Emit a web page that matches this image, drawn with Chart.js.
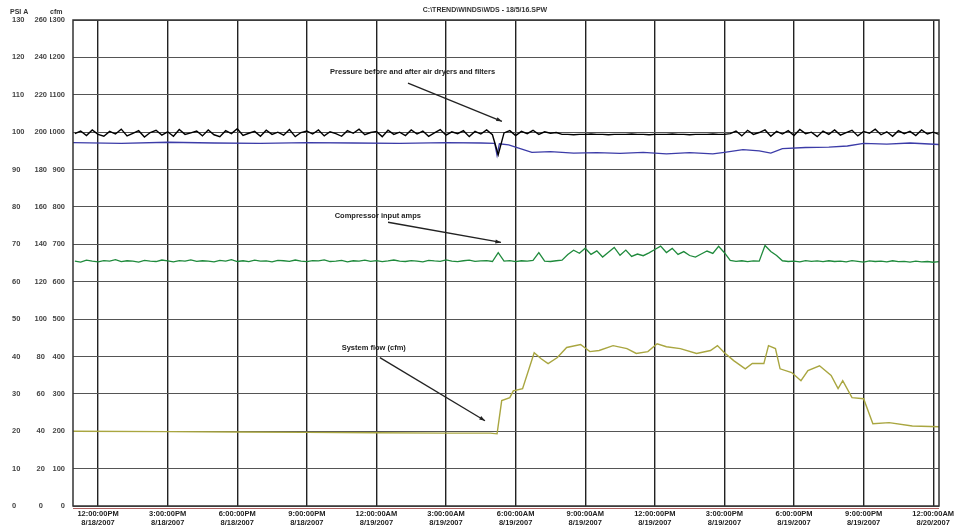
<!DOCTYPE html>
<html>
<head>
<meta charset="utf-8">
<script src="https://cdn.jsdelivr.net/npm/chart.js@4.4.0/dist/chart.umd.min.js"></script>
<style>
  html, body { margin: 0; padding: 0; background: #fff; }
  #wrap { width: 965px; height: 527px; position: relative; }
</style>
</head>
<body>
<div id="wrap"><canvas id="trend"></canvas></div>
<script>
// x axis is hours after 12:00 PM of the first day
const xTickTimes = ['12:00:00PM', '3:00:00PM', '6:00:00PM', '9:00:00PM', '12:00:00AM', '3:00:00AM', '6:00:00AM',
  '9:00:00AM', '12:00:00PM', '3:00:00PM', '6:00:00PM', '9:00:00PM', '12:00:00AM'];
const xTickDates = ['8/18/2007', '8/18/2007', '8/18/2007', '8/18/2007', '8/19/2007', '8/19/2007', '8/19/2007',
  '8/19/2007', '8/19/2007', '8/19/2007', '8/19/2007', '8/19/2007', '8/20/2007'];
const xTickHours = [0, 3, 6, 9, 12, 15, 18, 21, 24, 27, 30, 33, 36];

// logger samples every 15 min for the two noisy channels
const sampleStart = -1;
const sampleStep = 0.25;

// pressure before dryers, PSI A
const pressureBeforePsi = [
  99.6, 100.3, 99.1, 100.6, 99.4, 98.9, 100.2, 99.5, 100.8, 99.0, 99.7, 100.4,
  98.7, 99.9, 100.5, 99.2, 100.1, 98.9, 100.7, 99.4, 99.8, 100.3, 99.0, 100.6,
  99.3, 98.8, 100.4, 99.6, 100.9, 99.1, 99.7, 100.2, 98.9, 100.5, 99.4, 100.0,
  99.2, 100.7, 98.8, 99.9, 100.3, 99.5, 100.6, 99.0, 100.1, 99.6, 98.9, 100.4,
  99.7, 100.8, 99.3, 99.9, 100.2, 98.8, 100.5, 99.4, 100.0, 99.1, 100.6, 99.5,
  100.3, 98.9, 99.8, 100.7, 99.2, 100.1, 99.6, 100.4, 98.8, 100.2, 99.5, 100.6,
  99.3, 94.0, 99.8, 100.4, 99.1, 100.2, 99.6, 100.5, 99.4, 100.1, 99.7, 99.9,
  99.4, 99.4, 99.3, 99.4, 99.4, 99.5, 99.4, 99.4, 99.3, 99.4, 99.4, 99.4,
  99.5, 99.4, 99.4, 99.3, 99.4, 99.4, 99.4, 99.5, 99.4, 99.4, 99.3, 99.4,
  99.4, 99.4, 99.5, 99.4, 99.4,
  99.6, 100.3, 99.0, 100.5, 99.4, 99.9, 100.6, 98.9, 100.2, 99.5, 100.4, 99.1,
  100.7, 99.6, 100.0, 98.8, 100.3, 99.4, 100.6, 99.2, 99.9, 100.5, 99.0, 100.2,
  99.7, 100.8, 99.3, 100.1, 98.9, 100.4, 99.6, 100.2, 99.1, 100.6, 99.5, 100.0, 99.4
];

// compressor input amps (middle scale)
const compressorAmps = [
  131, 130.5, 131.5, 131, 130.6, 131.3, 131, 131.8, 130.7, 131.2, 131, 130.5,
  131.4, 131, 130.8, 131.6, 131.1, 130.6, 131.3, 131, 131.7, 130.9, 131.2, 131,
  130.6, 131.4, 131, 131.8, 130.8, 131.2, 130.7, 131.5, 131, 131.1, 130.6, 131.4,
  131.2, 130.9, 131.6, 131, 130.7, 131.3, 131.1, 131.7, 130.8, 131, 131.4, 130.6,
  131.2, 131, 131.5, 130.9, 131.3, 130.7, 131.1, 131.6, 131, 130.8, 131.3, 131,
  130.6, 131.4, 131.1, 130.9, 131.7, 131, 130.7, 131.2, 131.5, 130.9, 131.1, 131.3,
  130.8, 135.5, 131, 131.3, 130.7, 131.2, 131, 131.4, 135.5, 131, 130.8, 131.2,
  131.5, 134.5, 136.8, 135.2, 137.9, 134.6, 136.5, 133.2, 135.8, 138.3, 134.1, 136.9,
  133.5, 134.8, 133.9, 135.4, 137.2, 139.0, 135.6, 137.8, 134.6, 136.1, 134.0, 133.2,
  134.8, 136.4, 135.1, 138.9, 135.5,
  131.4, 130.9, 131.2, 130.7, 131.1, 131.0, 139.4, 136.2, 134.0,
  131.2, 130.8, 131.0, 130.6, 131.3, 130.9, 131.1, 130.7, 131.2, 130.8, 131.0, 130.6,
  131.3, 130.9, 130.5, 131.1, 130.8, 131.0, 130.6, 131.2, 130.7, 130.9, 130.5, 131.0,
  130.6, 130.8, 130.4, 130.7
];

// pressure after dryers and filters, PSI A
const pressureAfterHours = [-1.08, 1, 3, 5, 7, 9, 11, 13, 15, 16.5, 17.1, 17.2, 17.3, 17.7, 18.2, 18.7,
  19.5, 20.5, 21.5, 22.5, 23.5, 24.5, 25.5, 26.5, 27.0, 27.8, 28.5, 29.0, 29.5, 30.5, 31.5, 32.3,
  33.0, 34.0, 35.0, 36.25];
const pressureAfterPsi = [97.2, 97.0, 97.3, 97.1, 97.0, 97.2, 97.1, 97.0, 97.2, 97.1, 97.0, 93.8, 96.9, 96.6, 95.6, 94.6,
  94.8, 94.4, 94.5, 94.3, 94.6, 94.2, 94.5, 94.2, 94.6, 95.3, 95.0, 94.4, 95.6, 95.9, 96.0, 96.3,
  97.0, 96.8, 97.1, 96.7];

// system flow, cfm
const flowHours = [-1.08, 3, 6, 9, 12, 15, 16.9, 17.2, 17.4, 17.75, 17.9, 18.3, 18.8, 19.1, 19.4, 19.8,
  20.2, 20.8, 21.2, 21.6, 22.2, 22.8, 23.2, 23.7, 24.1, 24.5, 25.1, 25.8, 26.4, 26.7, 27.0, 27.4,
  27.9, 28.2, 28.7, 28.9, 29.2, 29.4, 29.9, 30.3, 30.6, 31.1, 31.6, 31.9, 32.1, 32.5, 33.0, 33.4,
  34.1, 35.1, 36.25];
const flowCfm = [200, 199, 198, 197, 196, 195, 195, 193, 282, 290, 308, 314, 410, 394, 381, 397,
  424, 432, 413, 416, 429, 421, 408, 413, 434, 426, 421, 408, 416, 429, 410, 389,
  367, 381, 381, 429, 421, 367, 357, 335, 362, 375, 349, 314, 335, 290, 287, 220,
  223, 214, 212];

const chartTitle = 'C:\\TREND\\WINDS\\WDS - 18/5/16.SPW';

const sampled = (vals) => vals.map((v, i) => ({ x: sampleStart + i * sampleStep, y: v }));
const paired = (xs, ys) => xs.map((x, i) => ({ x: x, y: ys[i] }));

// notes placed in data units: [hours, psi]
const notes = [
  { text: 'Pressure before and after air dryers and filters', at: [10.0, 116.1], from: [13.36, 113.1], to: [17.41, 102.9] },
  { text: 'Compressor input amps', at: [10.2, 77.7], from: [12.5, 75.9], to: [17.37, 70.5] },
  { text: 'System flow (cfm)', at: [10.5, 42.4], from: [12.15, 39.7], to: [16.68, 22.8] },
];

const tickFont = { family: '"Liberation Sans", Arial, sans-serif', size: 7.5, weight: 'bold' };

const decor = {
  id: 'decor',
  afterDraw(chart) {
    const { ctx, chartArea: a, scales } = chart;
    const px = (h) => scales.x.getPixelForValue(h);
    const py = (v) => scales.y.getPixelForValue(v);
    ctx.save();
    // frame
    ctx.strokeStyle = '#333';
    ctx.lineWidth = 1.5;
    ctx.strokeRect(a.left, a.top, a.right - a.left, a.bottom - a.top);
    ctx.strokeStyle = '#b06060';
    ctx.lineWidth = 1.2;
    ctx.beginPath();
    ctx.moveTo(a.left, a.bottom + 2.5);
    ctx.lineTo(a.right, a.bottom + 2.5);
    ctx.stroke();

    ctx.fillStyle = '#333';
    ctx.font = 'bold 7px "Liberation Sans", Arial, sans-serif';
    ctx.textBaseline = 'middle';
    ctx.textAlign = 'center';
    ctx.fillText(chartTitle, 485, 10);
    ctx.textAlign = 'left';
    ctx.fillText('PSI A', 10, 12);
    ctx.fillText('cfm', 50, 12);

    // notes and arrows
    ctx.font = 'bold 7.5px "Liberation Sans", Arial, sans-serif';
    ctx.fillStyle = '#222';
    ctx.strokeStyle = '#222';
    ctx.lineWidth = 1.3;
    notes.forEach((n) => {
      ctx.fillText(n.text, px(n.at[0]), py(n.at[1]));
      const x1 = px(n.from[0]), y1 = py(n.from[1]);
      const x2 = px(n.to[0]), y2 = py(n.to[1]);
      ctx.beginPath();
      ctx.moveTo(x1, y1);
      ctx.lineTo(x2, y2);
      ctx.stroke();
      const ang = Math.atan2(y2 - y1, x2 - x1);
      ctx.beginPath();
      ctx.moveTo(x2, y2);
      ctx.lineTo(x2 - 6 * Math.cos(ang - 0.35), y2 - 6 * Math.sin(ang - 0.35));
      ctx.lineTo(x2 - 6 * Math.cos(ang + 0.35), y2 - 6 * Math.sin(ang + 0.35));
      ctx.closePath();
      ctx.fill();
    });
    ctx.restore();
  }
};

new Chart(document.getElementById('trend'), {
  type: 'line',
  data: {
    datasets: [
      { label: 'Pressure before', data: sampled(pressureBeforePsi), yAxisID: 'y',
        borderColor: '#000', borderWidth: 1.4, order: 1 },
      { label: 'Pressure after', data: paired(pressureAfterHours, pressureAfterPsi), yAxisID: 'y',
        borderColor: '#3c3ca8', borderWidth: 1.3, order: 2 },
      { label: 'Compressor amps', data: sampled(compressorAmps), yAxisID: 'yAmps',
        borderColor: '#1f8a3c', borderWidth: 1.3, order: 3 },
      { label: 'System flow', data: paired(flowHours, flowCfm), yAxisID: 'yCfm',
        borderColor: '#a9a640', borderWidth: 1.4, order: 4 },
    ]
  },
  options: {
    responsive: true,
    maintainAspectRatio: false,
    animation: false,
    elements: { point: { radius: 0 }, line: { tension: 0 } },
    layout: { padding: { left: 12, right: 26, top: 20, bottom: 0 } },
    plugins: { legend: { display: false }, tooltip: { enabled: false } },
    scales: {
      x: {
        type: 'linear',
        min: -1.08,
        max: 36.25,
        afterBuildTicks: (axis) => {
          axis.ticks = xTickHours.map((h) => ({ value: h }));
        },
        afterFit: (s) => { s.height = 21; },
        ticks: {
          autoSkip: false,
          maxRotation: 0,
          padding: 3,
          color: '#222',
          font: tickFont,
          callback: (v) => {
            const k = xTickHours.indexOf(v);
            return [xTickTimes[k], xTickDates[k]];
          }
        },
        grid: { color: '#222', lineWidth: 1.4, drawTicks: false },
        border: { display: false }
      },
      y: {
        position: 'left',
        weight: 3,
        min: 0,
        max: 130,
        afterFit: (s) => { s.width = 18; },
        ticks: { stepSize: 10, crossAlign: 'far', color: '#444', font: tickFont, callback: (v) => String(v) },
        grid: { color: '#555', lineWidth: 1, drawTicks: false },
        border: { display: false }
      },
      yAmps: {
        position: 'left',
        weight: 2,
        min: 0,
        max: 260,
        afterFit: (s) => { s.width = 20; },
        ticks: { stepSize: 20, crossAlign: 'center', padding: 3, color: '#444', font: tickFont, callback: (v) => String(v) },
        grid: { drawOnChartArea: false, drawTicks: false },
        border: { display: false }
      },
      yCfm: {
        position: 'left',
        weight: 1,
        min: 0,
        max: 1300,
        afterFit: (s) => { s.width = 23; },
        ticks: { stepSize: 100, crossAlign: 'near', padding: 8, color: '#444', font: tickFont, callback: (v) => String(v) },
        grid: { drawOnChartArea: false, drawTicks: false },
        border: { display: false }
      }
    }
  },
  plugins: [decor]
});
</script>
</body>
</html>
